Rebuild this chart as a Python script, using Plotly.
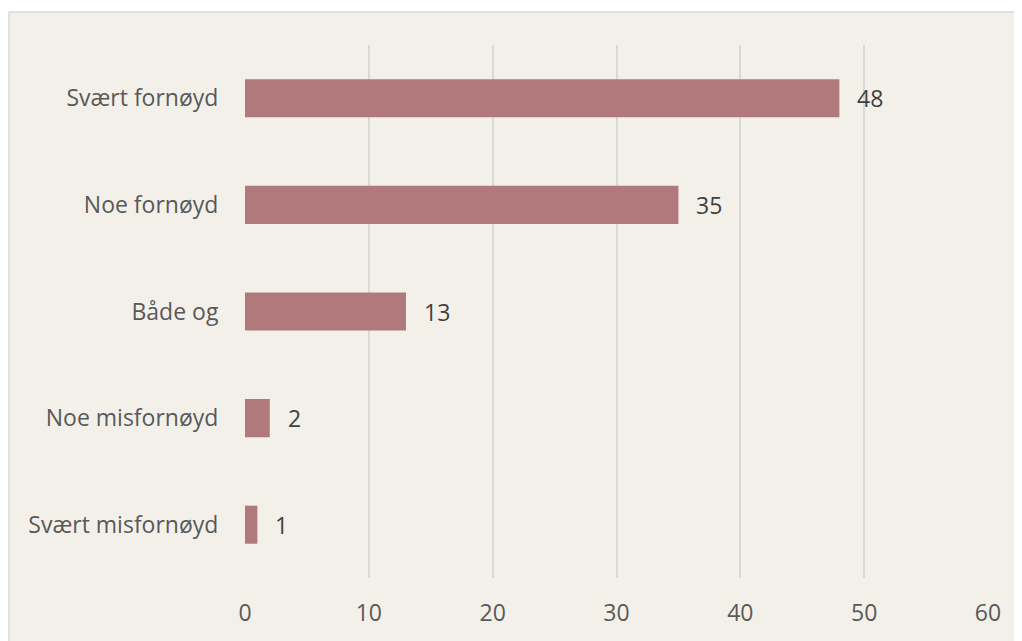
import plotly.graph_objects as go

categories = ["Svært misfornøyd", "Noe misfornøyd", "Både og", "Noe fornøyd", "Svært fornøyd"]
values = [1, 2, 13, 35, 48]
tick_vals = [0, 10, 20, 30, 40, 50, 60]

BAR_COLOR = "#B07A7D"
BG = "#F3F0EA"
GRID = "#D9D9D9"
FONT = "Open Sans"

# page has an 8px body margin; figure coordinates are offset accordingly
L, R, T, B = 237, 34, 37, 63
W, H = 1014, 633
PW = W - L - R
PH = H - T - B

fig = go.Figure()
fig.add_trace(go.Bar(
    y=categories, x=values, orientation="h",
    marker=dict(color=BAR_COLOR, line=dict(width=0)),
    width=0.357, hoverinfo="skip",
))

for c, v in zip(categories, values):
    fig.add_annotation(x=v, y=c, text=str(v), showarrow=False,
                       xanchor="left", xshift=16,
                       font=dict(family=FONT, size=23, color="#404040"))

fig.add_shape(type="rect", xref="paper", yref="paper",
              x0=(1 - L) / PW, x1=(1012 - L) / PW,
              y0=(H - T - 660) / PH, y1=(H - B - 4) / PH - 0 if False else (PH + T - 4) / PH,
              fillcolor=BG, line=dict(color=GRID, width=1.5), layer="below")

fig.update_layout(
    width=W, height=H,
    margin=dict(l=L, r=R, t=T, b=B),
    paper_bgcolor="white", plot_bgcolor=BG,
    showlegend=False,
    font=dict(family=FONT, size=23, color="#595959"),
    xaxis=dict(range=[0, 60], tickvals=tick_vals, showgrid=True,
               gridcolor=GRID, gridwidth=1.5, zeroline=False,
               showline=False, ticks="outside", ticklen=14,
               tickcolor="rgba(0,0,0,0)", tickfont=dict(size=23, color="#595959")),
    yaxis=dict(categoryorder="array", categoryarray=categories,
               showgrid=False, zeroline=False, showline=False,
               ticks="outside", ticklen=21, tickcolor="rgba(0,0,0,0)",
               tickfont=dict(size=23, color="#595959")),
)

fig.write_html("out.html")
